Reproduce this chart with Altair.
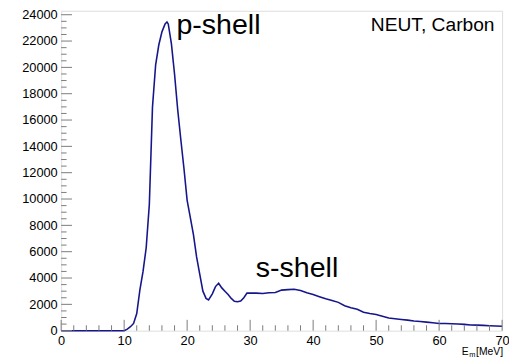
import altair as alt
import pandas as pd

# Histogram (E_m in MeV, counts)
em = [0, 10.0, 10.5, 11.0, 11.5, 12.0, 12.5, 13.0, 13.5, 14.0, 14.5, 15.0, 15.5,
      16.0, 16.5, 16.8, 17.0, 17.5, 18.0, 18.5, 19.0, 19.5, 20.0, 20.5, 21.0,
      21.5, 22.0, 22.5, 23.0, 23.4, 24.0, 24.5, 25.0, 25.5, 26.0, 26.5, 27.0,
      27.5, 28.0, 28.5, 29.0, 29.5, 30.0, 31, 32, 33, 34, 35, 36, 37, 38, 39,
      40, 41, 42, 43, 44, 45, 46, 47, 48, 49, 50, 51, 52, 53, 54, 55, 56, 57,
      58, 59, 60, 61, 62, 63, 64, 65, 66, 67, 68, 69, 70]
counts = [0, 0, 120, 300, 550, 1300, 3100, 4500, 6300, 9600, 17000, 20200, 21700,
          22700, 23300, 23450, 23300, 21800, 19500, 16800, 14500, 12300, 9900,
          8600, 7300, 5600, 4300, 3000, 2450, 2330, 2800, 3350, 3600, 3250, 3000,
          2750, 2450, 2230, 2200, 2250, 2500, 2850, 2850, 2850, 2830, 2880, 2900,
          3080, 3120, 3150, 3050, 2880, 2750, 2580, 2420, 2300, 2150, 1900, 1750,
          1620, 1400, 1300, 1230, 1100, 960, 900, 850, 800, 740, 700, 650, 600,
          550, 540, 530, 510, 480, 430, 420, 400, 380, 360, 340]

x_major = [0, 10, 20, 30, 40, 50, 60, 70]
x_minor = [v for v in range(0, 71, 2) if v % 10 != 0]
y_major = list(range(0, 24001, 2000))
y_minor = [v for v in range(0, 24301, 500) if v % 2000 != 0]

ann_text = ["p-shell", "s-shell", "NEUT, Carbon"]
ann_x = [18.3, 30.9, 68.8]
ann_y = [22500, 4110, 22730]

W, H = 448, 325
XMAX, YMAX = 70, 24300
GRAY = "#7a7a7a"
FONT = "Liberation Sans"

df = pd.DataFrame({"em": em, "counts": counts})
xs = alt.Scale(domain=[0, XMAX], nice=False)
ys = alt.Scale(domain=[0, YMAX], nice=False)
x_axis = alt.Axis(values=x_major, format="d", ticks=False, domain=False, grid=False,
                  labelPadding=4, labelFontSize=13, labelColor="black",
                  labelFont=FONT, labelOverlap=False, labelFlush=False, title=None)
y_axis = alt.Axis(values=y_major, format="d", ticks=False, domain=False, grid=False,
                  labelPadding=4, labelFontSize=13, labelColor="black",
                  labelFont=FONT, labelOverlap=False, labelFlush=False, title=None)

def X(field):
    return alt.X(field, scale=xs, axis=x_axis, title=None)

def Y(field):
    return alt.Y(field, scale=ys, axis=y_axis, title=None)

line = alt.Chart(df).mark_line(color="#16168c", strokeWidth=1.6).encode(
    x=X("em:Q"), y=Y("counts:Q"))

def xticks(vals, length):
    return alt.Chart(pd.DataFrame({"v": vals})).mark_rule(color=GRAY, strokeWidth=1).encode(
        x=X("v:Q"), y=alt.value(H), y2=alt.value(H - length))

def yticks(vals, length):
    return alt.Chart(pd.DataFrame({"v": vals})).mark_rule(color=GRAY, strokeWidth=1).encode(
        y=Y("v:Q"), x=alt.value(0), x2=alt.value(length))

ann = pd.DataFrame({"t": ann_text, "x": ann_x, "y": ann_y})
shells = alt.Chart(ann.iloc[:2]).mark_text(align="left", baseline="alphabetic",
                                           fontSize=29, font=FONT, color="black").encode(
    x=X("x:Q"), y=Y("y:Q"), text="t:N")
neut = alt.Chart(ann.iloc[2:]).mark_text(align="right", baseline="alphabetic",
                                         fontSize=19.5, font=FONT, color="black").encode(
    x=X("x:Q"), y=Y("y:Q"), text="t:N")

t_e = alt.Chart(pd.DataFrame({"t": ["E"]})).mark_text(align="right", baseline="alphabetic",
                                                      fontSize=10.5, font=FONT, color="black").encode(
    x=alt.value(414), y=alt.value(350), text="t:N")
t_m = alt.Chart(pd.DataFrame({"t": ["m"]})).mark_text(align="left", baseline="alphabetic",
                                                      fontSize=7.5, font=FONT, color="black").encode(
    x=alt.value(414.5), y=alt.value(352), text="t:N")
t_u = alt.Chart(pd.DataFrame({"t": ["[MeV]"]})).mark_text(align="right", baseline="alphabetic",
                                                          fontSize=10.5, font=FONT, color="black").encode(
    x=alt.value(449), y=alt.value(350), text="t:N")

chart = alt.layer(
    line, xticks(x_minor, 5.5), xticks(x_major, 11), yticks(y_minor, 5.5), yticks(y_major, 11),
    shells, neut, t_e, t_m, t_u,
).properties(
    width=W, height=H,
    autosize=alt.AutoSizeParams(type="none"),
    padding={"left": 54, "top": 0, "right": 7, "bottom": 29},
).configure_view(stroke=GRAY, strokeWidth=1).configure(background="white")

chart.save("out.html", embed_options={"renderer": "svg", "actions": False})
